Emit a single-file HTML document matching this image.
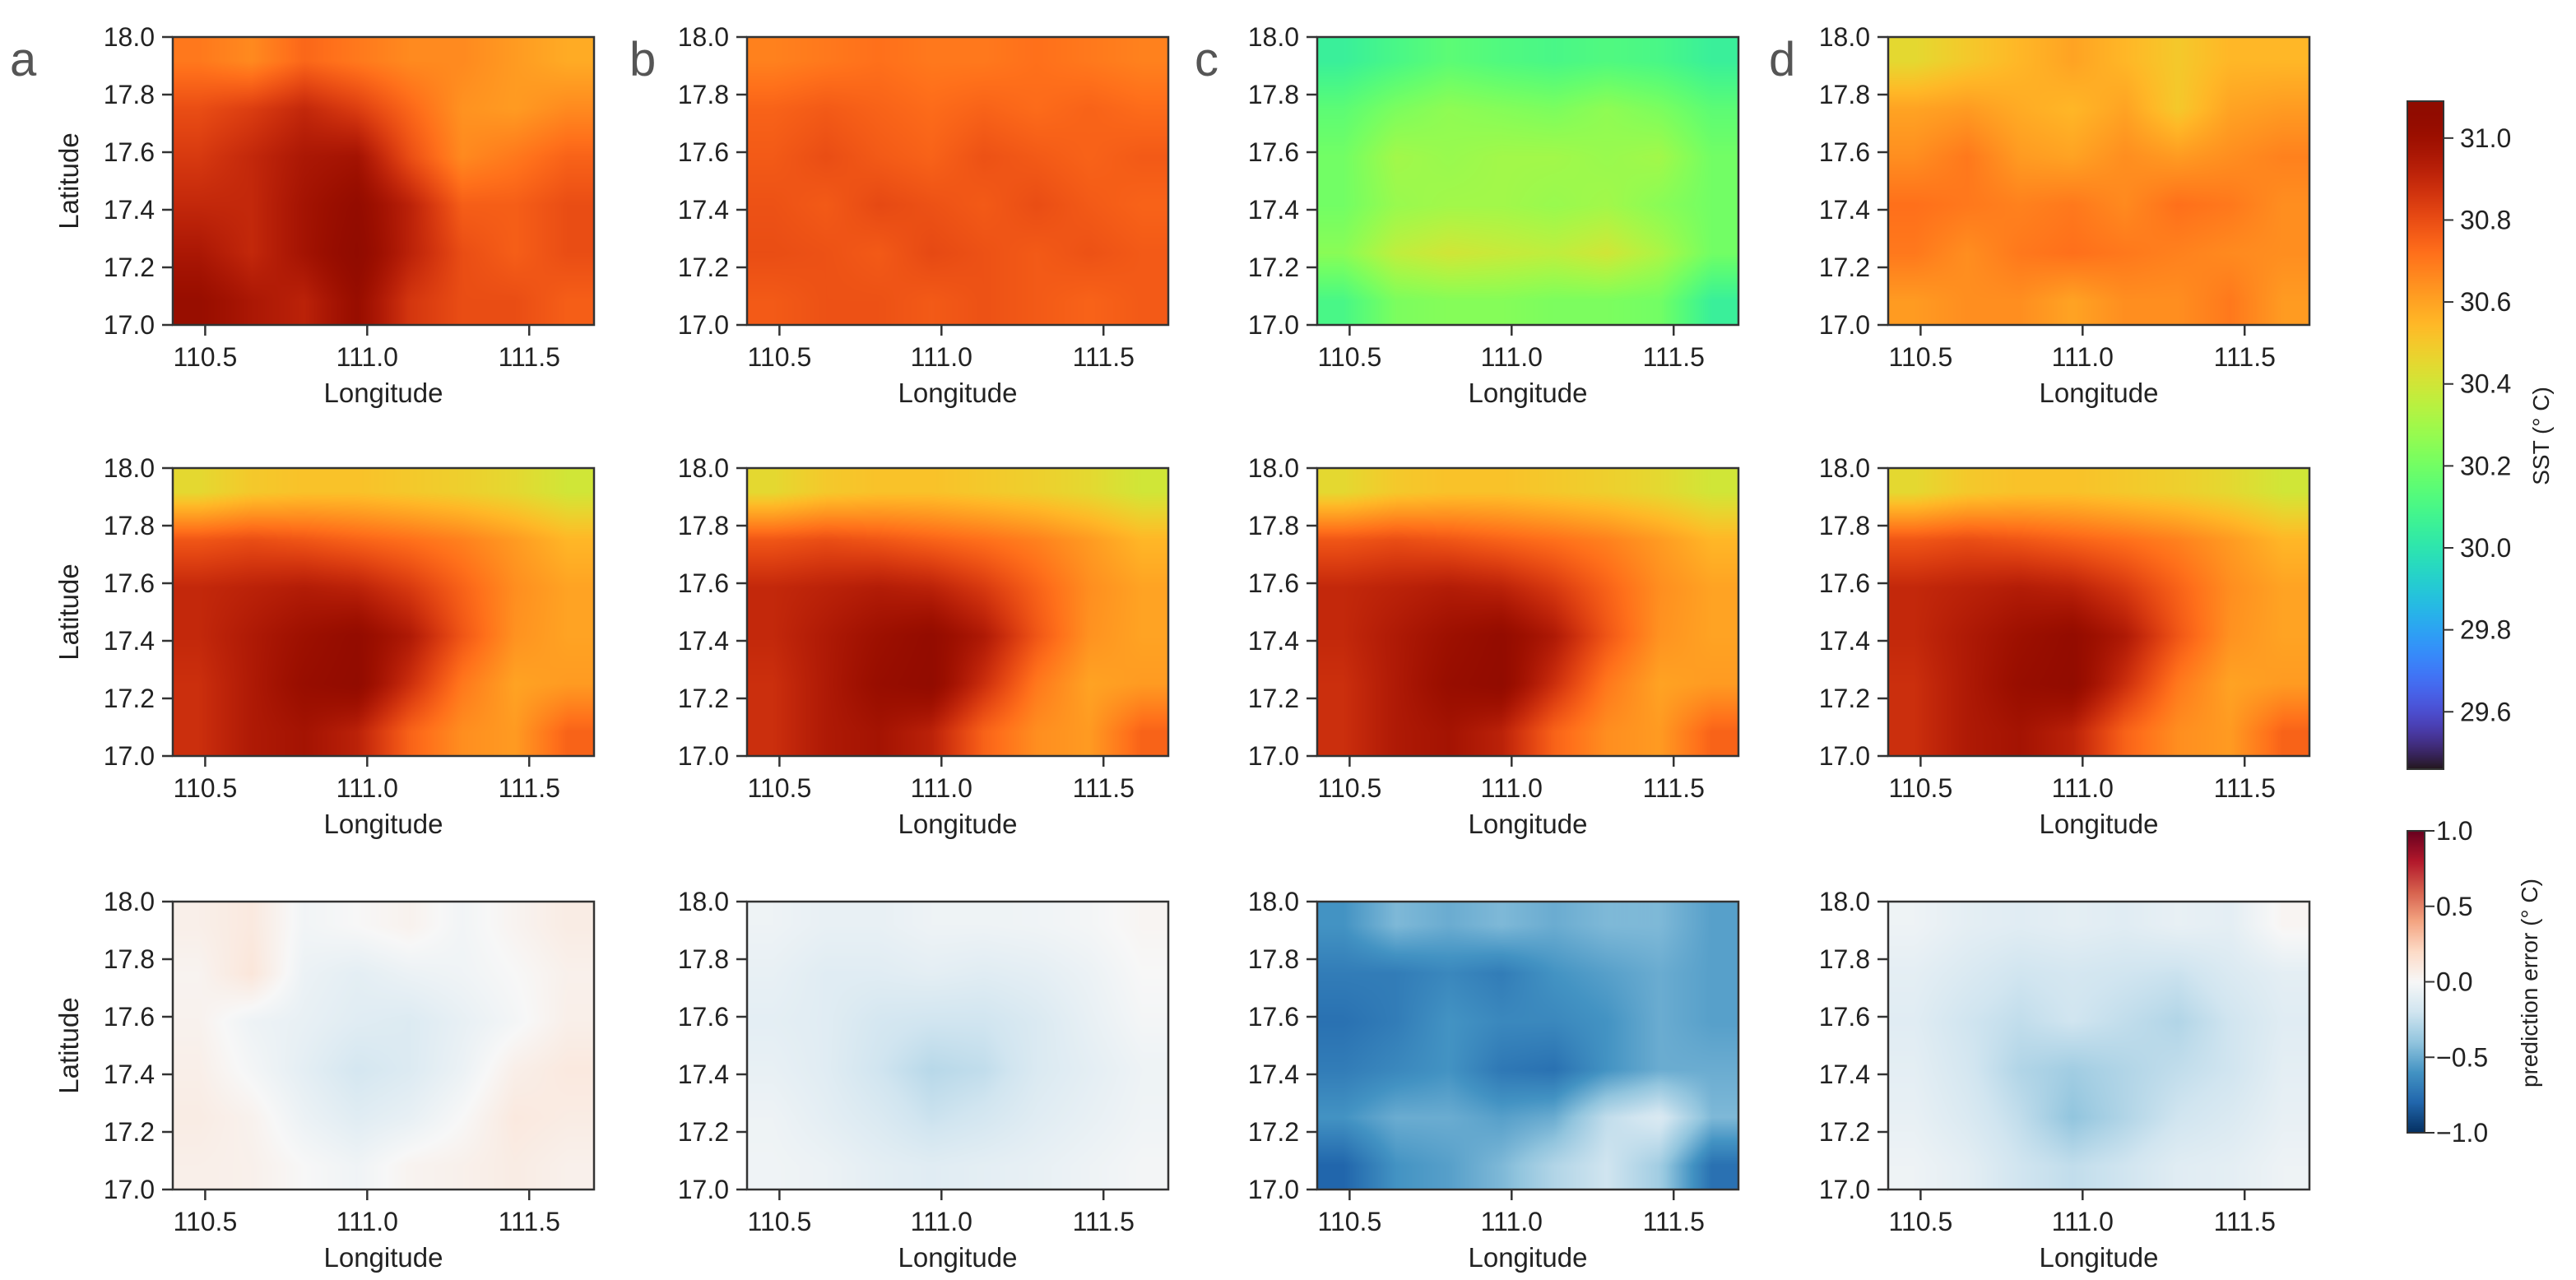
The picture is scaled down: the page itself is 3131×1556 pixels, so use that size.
<!DOCTYPE html>
<html><head><meta charset="utf-8">
<style>
html,body{margin:0;padding:0;background:#fff;}
#root{position:relative;width:3131px;height:1556px;overflow:hidden;background:#fff;}
canvas{position:absolute;}
svg{position:absolute;left:0;top:0;}
text{font-family:"Liberation Sans",sans-serif;fill:#222;}
</style></head>
<body>
<div id="root">
<svg id="ov" width="3131" height="1556"></svg>
</div>
<script>
// ---------- data ----------
const lonTicks = [110.5, 111.0, 111.5];
const lonTickLabels = ["110.5", "111.0", "111.5"];
const latTicks = [18.0, 17.8, 17.6, 17.4, 17.2, 17.0];
const latTickLabels = ["18.0", "17.8", "17.6", "17.4", "17.2", "17.0"];
const sstTicks = [31.0, 30.8, 30.6, 30.4, 30.2, 30.0, 29.8, 29.6];
const errTicks = [1.0, 0.5, 0.0, -0.5, -1.0];
const errTickLabels = ["1.0", "0.5", "0.0", "\u22120.5", "\u22121.0"];
const panelLetters = ["a", "b", "c", "d"];

const sstA = [
 [30.7,30.66,30.74,30.7,30.66,30.66,30.62,30.58],
 [30.8,30.84,30.9,30.84,30.74,30.64,30.62,30.66],
 [30.85,30.9,30.96,30.98,30.8,30.66,30.7,30.75],
 [30.9,30.9,30.98,31.04,30.92,30.76,30.76,30.8],
 [30.96,30.9,30.98,31.06,30.92,30.8,30.76,30.8],
 [31.02,30.96,30.92,31.02,30.86,30.8,30.8,30.76]];
const sstB = [
 [30.68,30.7,30.72,30.7,30.7,30.72,30.7,30.68],
 [30.75,30.77,30.75,30.73,30.75,30.73,30.75,30.73],
 [30.77,30.8,30.77,30.75,30.79,30.77,30.75,30.77],
 [30.79,30.77,30.81,30.79,30.77,30.8,30.77,30.75],
 [30.8,30.79,30.77,30.81,30.79,30.77,30.79,30.77],
 [30.77,30.79,30.79,30.77,30.79,30.77,30.75,30.77]];
const sstC = [
 [30.05,30.1,30.15,30.12,30.1,30.12,30.1,30.05],
 [30.15,30.22,30.26,30.24,30.22,30.26,30.22,30.15],
 [30.2,30.3,30.28,30.3,30.3,30.28,30.3,30.2],
 [30.2,30.28,30.3,30.3,30.28,30.3,30.25,30.2],
 [30.25,30.36,30.4,30.38,30.36,30.4,30.32,30.2],
 [30.1,30.22,30.24,30.24,30.22,30.22,30.2,30.05]];
const sstD = [
 [30.45,30.5,30.55,30.6,30.55,30.5,30.55,30.55],
 [30.6,30.62,30.58,30.55,30.6,30.5,30.6,30.62],
 [30.65,30.7,30.62,30.6,30.65,30.62,30.65,30.68],
 [30.72,30.7,30.68,30.7,30.66,30.72,30.7,30.65],
 [30.7,30.65,30.7,30.72,30.7,30.68,30.66,30.65],
 [30.62,30.65,30.65,30.6,30.65,30.65,30.7,30.62]];
const sstTruth = [
 [30.45,30.5,30.52,30.52,30.5,30.48,30.45,30.4],
 [30.78,30.8,30.78,30.75,30.72,30.68,30.62,30.55],
 [30.9,30.92,30.94,30.92,30.85,30.75,30.65,30.6],
 [30.9,30.95,31.0,31.04,30.95,30.78,30.64,30.6],
 [30.88,30.95,31.02,31.05,30.88,30.7,30.6,30.62],
 [30.88,30.95,30.98,30.92,30.75,30.65,30.62,30.75]];
const errA = [
 [0.06,0.1,-0.03,0.0,0.04,-0.03,0.03,0.08],
 [0.03,0.12,-0.06,-0.1,-0.06,-0.04,0.0,0.05],
 [0.04,-0.05,-0.08,-0.12,-0.14,-0.08,-0.02,0.06],
 [0.06,-0.02,-0.1,-0.18,-0.14,-0.06,0.06,0.1],
 [0.08,0.04,-0.06,-0.12,-0.08,0.0,0.1,0.08],
 [0.06,0.05,0.0,-0.04,0.03,0.05,0.08,0.05]];
const errB = [
 [-0.05,-0.08,-0.08,-0.05,-0.05,-0.04,-0.02,0.02],
 [-0.08,-0.12,-0.12,-0.1,-0.12,-0.1,-0.06,0.0],
 [-0.1,-0.12,-0.18,-0.2,-0.2,-0.15,-0.08,-0.02],
 [-0.08,-0.12,-0.2,-0.28,-0.25,-0.15,-0.1,-0.05],
 [-0.05,-0.1,-0.15,-0.22,-0.18,-0.12,-0.08,-0.04],
 [-0.04,-0.06,-0.1,-0.12,-0.1,-0.08,-0.05,-0.02]];
const errC = [
 [-0.6,-0.45,-0.5,-0.45,-0.5,-0.45,-0.45,-0.55],
 [-0.7,-0.7,-0.65,-0.7,-0.6,-0.55,-0.5,-0.55],
 [-0.75,-0.7,-0.6,-0.65,-0.65,-0.6,-0.5,-0.55],
 [-0.7,-0.65,-0.6,-0.72,-0.75,-0.6,-0.5,-0.5],
 [-0.6,-0.5,-0.5,-0.55,-0.5,-0.25,-0.15,-0.45],
 [-0.8,-0.6,-0.55,-0.45,-0.3,-0.2,-0.35,-0.75]];
const errD = [
 [-0.05,-0.1,-0.12,-0.1,-0.12,-0.08,-0.1,0.02],
 [-0.1,-0.15,-0.2,-0.18,-0.2,-0.22,-0.15,-0.1],
 [-0.12,-0.2,-0.25,-0.2,-0.25,-0.3,-0.2,-0.12],
 [-0.1,-0.18,-0.3,-0.35,-0.3,-0.25,-0.2,-0.1],
 [-0.08,-0.15,-0.25,-0.4,-0.3,-0.2,-0.15,-0.08],
 [-0.05,-0.1,-0.2,-0.25,-0.2,-0.12,-0.1,-0.05]];

// ---------- layout ----------
const colX = [210, 908, 1601, 2295];
const rowY = [45, 569, 1096];
const PW = 512, PH = 350;
const LON0 = 110.40, LON1 = 111.70, LAT0 = 17.0, LAT1 = 18.0;
const SSTMIN = 29.46, SSTMAX = 31.09;

const rowsData = [[sstA, sstB, sstC, sstD],[sstTruth, sstTruth, sstTruth, sstTruth],[errA, errB, errC, errD]];

function turbo(t){
  t = Math.max(0, Math.min(1, t));
  const r = 0.13572138 + t*(4.61539260 + t*(-42.66032258 + t*(132.13108234 + t*(-152.94239396 + t*59.28637943))));
  const g = 0.09140261 + t*(2.19418839 + t*(4.84296658 + t*(-14.18503333 + t*(4.27729857 + t*2.82956604))));
  const b = 0.10667330 + t*(12.64194608 + t*(-60.58204836 + t*(110.36276771 + t*(-89.90310912 + t*27.34824973))));
  return [r,g,b].map(v => Math.round(255*Math.max(0, Math.min(1, v))));
}
const rdbu = [[5,48,97],[33,102,172],[67,147,195],[146,197,222],[209,229,240],[247,247,247],[253,219,199],[244,165,130],[214,96,77],[178,24,43],[103,0,31]];
function rdbuColor(v){
  let t = (Math.max(-1, Math.min(1, v)) + 1) / 2 * 10;
  const i = Math.min(9, Math.floor(t)), f = t - i;
  return [0,1,2].map(k => Math.round(rdbu[i][k]*(1-f) + rdbu[i+1][k]*f));
}
function sstColor(v){ return turbo((v - SSTMIN)/(SSTMAX - SSTMIN)); }

function sample(grid, u, v){
  const R = grid.length, C = grid[0].length;
  let x = u*C - 0.5, y = v*R - 0.5;
  x = Math.max(0, Math.min(C-1, x)); y = Math.max(0, Math.min(R-1, y));
  const x0 = Math.floor(x), y0 = Math.floor(y);
  const x1 = Math.min(C-1, x0+1), y1 = Math.min(R-1, y0+1);
  const fx = x - x0, fy = y - y0;
  const a = grid[y0][x0]*(1-fx) + grid[y0][x1]*fx;
  const b = grid[y1][x0]*(1-fx) + grid[y1][x1]*fx;
  return a*(1-fy) + b*fy;
}

const root = document.getElementById('root');
const ov = document.getElementById('ov');
const NS = 'http://www.w3.org/2000/svg';
function mk(tag, attrs, txt){
  const e = document.createElementNS(NS, tag);
  for (const k in attrs) e.setAttribute(k, attrs[k]);
  if (txt !== undefined) e.textContent = txt;
  ov.appendChild(e);
  return e;
}

function drawHeat(grid, px, py, isErr){
  const c = document.createElement('canvas');
  c.width = PW; c.height = PH;
  c.style.left = px + 'px'; c.style.top = py + 'px';
  
  
  const ctx = c.getContext('2d');
  const img = ctx.createImageData(PW, PH);
  for (let y = 0; y < PH; y++){
    for (let x = 0; x < PW; x++){
      const val = sample(grid, (x+0.5)/PW, (y+0.5)/PH);
      const col = isErr ? rdbuColor(val) : sstColor(val);
      const i = (y*PW + x)*4;
      img.data[i]=col[0]; img.data[i+1]=col[1]; img.data[i+2]=col[2]; img.data[i+3]=255;
    }
  }
  ctx.putImageData(img, 0, 0);
  root.insertBefore(c, ov);
}

for (let r = 0; r < 3; r++){
  for (let cI = 0; cI < 4; cI++){
    const px = colX[cI], py = rowY[r];
    drawHeat(rowsData[r][cI], px, py, r === 2);
    const xs = lon => px + (lon - LON0)/(LON1 - LON0)*PW;
    const ys = lat => py + (LAT1 - lat)/(LAT1 - LAT0)*PH;
    const frame = mk('rect', {x:px, y:py, width:PW, height:PH, fill:'none', stroke:'#333', 'stroke-width':2.5});
    
    
    lonTicks.forEach((t, i) => {
      const tk = mk('line', {x1:xs(t), x2:xs(t), y1:py+PH, y2:py+PH+13, stroke:'#333', 'stroke-width':2.5});
      
      
      const tl = mk('text', {x:xs(t), y:py+PH+50, 'text-anchor':'middle', 'font-size':32}, lonTickLabels[i]);
      
      
    });
    latTicks.forEach((t, i) => {
      const tk = mk('line', {x1:px-13, x2:px, y1:ys(t), y2:ys(t), stroke:'#333', 'stroke-width':2.5});
      
      
      const tl = mk('text', {x:px-22, y:ys(t)+11, 'text-anchor':'end', 'font-size':32}, latTickLabels[i]);
      
      
    });
    const xl = mk('text', {x:px+PW/2, y:py+PH+94, 'text-anchor':'middle', 'font-size':33}, 'Longitude');
    
    
    if (cI === 0){
      const yl = mk('text', {x:0, y:0, 'text-anchor':'middle', 'font-size':33, transform:`translate(${px-115},${py+PH/2}) rotate(-90)`}, 'Latitude');
      
      
    }
    if (r === 0){
      const lt = mk('text', {x:[12, 765, 1452, 2150][cI], y:92, 'font-size':58, style:'fill:#555'}, panelLetters[cI]);
      
      
    }
  }
}

// ---------- colorbars ----------
function drawBar(x, y, w, h, fn, name){
  const c = document.createElement('canvas');
  c.width = w; c.height = h;
  c.style.left = x + 'px'; c.style.top = y + 'px';
  
  
  const ctx = c.getContext('2d');
  for (let j = 0; j < h; j++){
    const col = fn(1 - (j+0.5)/h);
    ctx.fillStyle = `rgb(${col[0]},${col[1]},${col[2]})`;
    ctx.fillRect(0, j, w, 1);
  }
  root.insertBefore(c, ov);
  const fr = mk('rect', {x:x, y:y, width:w, height:h, fill:'none', stroke:'#333', 'stroke-width':2});
  
  
}
const SB = {x:2926, y:123, w:44, h:812};
drawBar(SB.x, SB.y, SB.w, SB.h, f => turbo(f), 'sst-colorbar');
const sY = v => SB.y + (SSTMAX - v)/(SSTMAX - SSTMIN)*SB.h;
sstTicks.forEach(t => {
  const tk = mk('line', {x1:SB.x+SB.w, x2:SB.x+SB.w+12, y1:sY(t), y2:sY(t), stroke:'#333', 'stroke-width':2});
  
  
  const tl = mk('text', {x:SB.x+SB.w+20, y:sY(t)+11, 'font-size':32}, t.toFixed(1));
  
  
});
const st = mk('text', {x:0, y:0, 'text-anchor':'middle', 'font-size':28, transform:'translate(3098,530) rotate(-90)'}, 'SST (\u00b0 C)');



const EB = {x:2926, y:1010, w:21, h:367};
drawBar(EB.x, EB.y, EB.w, EB.h, f => rdbuColor(f*2-1), 'error-colorbar');
const eY = v => EB.y + (1 - v)/2*EB.h;
errTicks.forEach((t, i) => {
  const tk = mk('line', {x1:EB.x+EB.w, x2:EB.x+EB.w+12, y1:eY(t), y2:eY(t), stroke:'#333', 'stroke-width':2});
  
  
  const tl = mk('text', {x:EB.x+EB.w+14, y:eY(t)+11, 'font-size':32}, errTickLabels[i]);
  
  
});
const et = mk('text', {x:0, y:0, 'text-anchor':'middle', 'font-size':28, transform:'translate(3084,1195) rotate(-90)'}, 'prediction error (\u00b0 C)');


</script>
</body></html>
